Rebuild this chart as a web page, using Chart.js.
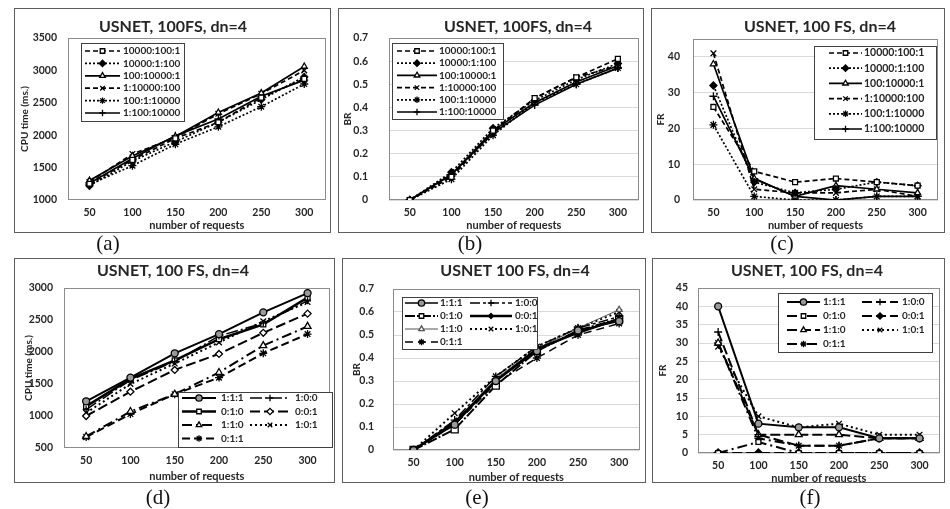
<!DOCTYPE html>
<html>
<head>
<meta charset="utf-8">
<script src="https://cdn.jsdelivr.net/npm/chart.js@4.4.0/dist/chart.umd.min.js"></script>
<style>
  body { margin: 0; background: #fff; width: 950px; height: 509px; position: relative; overflow: hidden; }
  .panel { position: absolute; }
  .panel canvas { position: absolute; left: 0; top: 0; }
  .frame { position: absolute; left: 0; top: 0; right: 0; bottom: 0; border: 1.5px solid #5e5e5e; box-sizing: border-box; pointer-events: none; }
  .cap { position: absolute; font-family: 'Liberation Serif', 'DejaVu Serif', serif; font-size: 21px; color: #111; transform: translate(-50%, -50%); }
</style>
</head>
<body>
<script>
const requests = ['50', '100', '150', '200', '250', '300'];
const seriesTop = ['10000:100:1', '10000:1:100', '100:10000:1', '1:10000:100', '100:1:10000', '1:100:10000'];
const seriesBottom = ['1:1:1', '1:0:0', '0:1:0', '0:0:1', '1:1:0', '1:0:1', '0:1:1'];

// (a) CPU time, one row per seriesTop entry
const cpuTop = [
  [1250, 1620, 1950, 2200, 2580, 2870],
  [1220, 1600, 1900, 2200, 2550, 2900],
  [1300, 1680, 1980, 2350, 2650, 3060],
  [1280, 1710, 1960, 2330, 2640, 3000],
  [1240, 1530, 1860, 2130, 2440, 2790],
  [1260, 1640, 1990, 2250, 2600, 2850]
];
// (b) BR
const brTop = [
  [0, 0.10, 0.30, 0.44, 0.53, 0.61],
  [0, 0.12, 0.31, 0.43, 0.52, 0.59],
  [0, 0.11, 0.30, 0.42, 0.51, 0.58],
  [0, 0.10, 0.29, 0.44, 0.53, 0.58],
  [0, 0.09, 0.28, 0.42, 0.50, 0.57],
  [0, 0.11, 0.29, 0.41, 0.50, 0.57]
];
// (c) FR
const frTop = [
  [26, 8, 5, 6, 5, 4],
  [32, 5, 2, 3, 5, 4],
  [38, 6, 1, 4, 3, 2],
  [41, 3, 2, 2, 3, 1],
  [21, 1, 0, 0, 1, 1],
  [29, 6, 1, 0, 1, 1]
];
// (d) CPU time, one row per seriesBottom entry
const cpuBottom = [
  [1230, 1600, 1980, 2280, 2620, 2920],
  [1100, 1560, 1850, 2250, 2450, 2800],
  [1150, 1580, 1870, 2200, 2430, 2850],
  [1000, 1380, 1720, 1970, 2300, 2600],
  [680, 1070, 1340, 1680, 2100, 2400],
  [1050, 1500, 1820, 2150, 2480, 2780],
  [670, 1030, 1340, 1600, 1980, 2280]
];
// (e) BR
const brBottom = [
  [0, 0.11, 0.30, 0.43, 0.52, 0.56],
  [0, 0.13, 0.32, 0.45, 0.53, 0.58],
  [0, 0.09, 0.28, 0.43, 0.52, 0.57],
  [0, 0.12, 0.30, 0.44, 0.51, 0.57],
  [0, 0.12, 0.31, 0.44, 0.53, 0.61],
  [0, 0.16, 0.32, 0.45, 0.53, 0.60],
  [0, 0.11, 0.29, 0.40, 0.50, 0.55]
];
// (f) FR
const frBottom = [
  [40, 8, 7, 7, 4, 4],
  [33, 5, 2, 2, 4, 4],
  [0, 3, 0, 0, 0, 0],
  [0, 0, 0, 0, 0, 0],
  [30, 5, 5, 5, 4, 4],
  [29, 10, 7, 8, 5, 5],
  [30, 4, 2, 2, 4, 4]
];

const font = 'Lato, "Open Sans", sans-serif';
const ink = '#262626';

const topStyles = [
  { dash: [5, 3], point: 'rect', fill: '#fff', r: 3.5, w: 1.7 },
  { dash: [2, 2], point: 'rectRot', fill: '#000', r: 3.5, w: 1.7 },
  { dash: [], point: 'triangle', fill: '#fff', r: 3.5, w: 1.7 },
  { dash: [5, 3], point: 'crossRot', fill: '#000', r: 4, w: 1.7 },
  { dash: [2, 2], point: 'star', fill: '#000', r: 4, w: 1.7 },
  { dash: [], point: 'cross', fill: '#000', r: 4, w: 1.7 }
];
const stylesD = [
  { dash: [], point: 'circle', fill: '#999', r: 3.5, w: 2 },
  { dash: [12, 3, 2, 3], point: 'cross', fill: '#000', r: 3.5 },
  { dash: [], point: 'rect', fill: '#fff', r: 3.5, w: 2.5 },
  { dash: [10, 4], point: 'rectRot', fill: '#fff', r: 3.5, w: 2 },
  { dash: [10, 4, 2, 4], point: 'triangle', fill: '#fff', r: 4, w: 2 },
  { dash: [2, 3], point: 'crossRot', fill: '#000', r: 4, w: 2 },
  { dash: [8, 4], point: 'star', fill: '#000', r: 4, w: 2 }
];
const stylesE = [
  { dash: [], point: 'circle', fill: '#999', r: 3.5, w: 1.5 },
  { dash: [10, 3, 3, 3], point: 'cross', fill: '#000', r: 4 },
  { dash: [10, 2, 2, 2], point: 'rect', fill: '#fff', r: 5, w: 2 },
  { dash: [], point: 'rectRot', fill: '#000', r: 2.5, w: 2.5 },
  { dash: [], point: 'triangle', fill: '#fff', r: 3.5, w: 1, color: '#555' },
  { dash: [2, 3], point: 'crossRot', fill: '#000', r: 4, w: 2 },
  { dash: [8, 5], point: 'star', fill: '#000', r: 4 }
];
const stylesF = [
  { dash: [], point: 'circle', fill: '#999', r: 3.5, w: 2 },
  { dash: [10, 4], point: 'cross', fill: '#000', r: 4, w: 2 },
  { dash: [10, 4, 2, 4], point: 'rect', fill: '#fff', r: 3.5, w: 2 },
  { dash: [10, 4], point: 'rectRot', fill: '#000', r: 4, w: 2 },
  { dash: [10, 4], point: 'triangle', fill: '#fff', r: 4, w: 2 },
  { dash: [2, 3], point: 'crossRot', fill: '#000', r: 4, w: 2 },
  { dash: [10, 4, 2, 4], point: 'star', fill: '#000', r: 4, w: 2 }
];

const plotFrame = {
  id: 'plotFrame',
  beforeDatasetsDraw(chart) {
    const a = chart.chartArea, ctx = chart.ctx;
    ctx.save();
    ctx.strokeStyle = '#8c8c8c';
    ctx.lineWidth = 1;
    ctx.strokeRect(Math.round(a.left) + 0.5, Math.round(a.top) + 0.5, Math.round(a.right - a.left) - 1, Math.round(a.bottom - a.top) - 1);
    ctx.restore();
  }
};

const panelText = {
  id: 'panelText',
  afterDraw(chart, args, o) {
    const ctx = chart.ctx;
    ctx.save();
    ctx.font = 'bold 16px ' + font;
    ctx.fillStyle = ink;
    ctx.textAlign = 'center';
    ctx.textBaseline = 'middle';
    ctx.fillText(o.text, o.x, o.y);
    ctx.restore();
  }
};

const boxLegend = {
  id: 'boxLegend',
  afterDraw(chart, args, o) {
    const ctx = chart.ctx;
    ctx.save();
    ctx.fillStyle = '#fff';
    ctx.fillRect(o.x, o.y, o.w, o.h);
    ctx.strokeStyle = '#404040';
    ctx.lineWidth = 1;
    ctx.strokeRect(o.x + 0.5, o.y + 0.5, o.w, o.h);
    ctx.font = 'bold ' + o.size + 'px ' + font;
    ctx.textBaseline = 'middle';
    chart.data.datasets.forEach((ds, i) => {
      const col = i % o.cols, row = Math.floor(i / o.cols);
      const y = o.row0 + row * o.rowH;
      const x0 = o.sampleX[col], x1 = x0 + o.sampleW[col];
      ctx.setLineDash(ds.borderDash || []);
      ctx.lineWidth = ds.borderWidth;
      ctx.strokeStyle = ds.borderColor;
      ctx.beginPath();
      ctx.moveTo(x0, y);
      ctx.lineTo(x1, y);
      ctx.stroke();
      ctx.setLineDash([]);
      ctx.fillStyle = ds.pointBackgroundColor;
      ctx.strokeStyle = ds.pointBorderColor;
      ctx.lineWidth = ds.pointBorderWidth;
      Chart.helpers.drawPoint(ctx, { pointStyle: ds.pointStyle, radius: Math.min(ds.pointRadius, 3.2), rotation: 0, borderWidth: ds.pointBorderWidth }, (x0 + x1) / 2, y);
      ctx.fillStyle = ink;
      ctx.fillText(ds.label, o.textX[col], y);
    });
    ctx.restore();
  }
};

function makePanel(p) {
  const bx = p.box.x, by = p.box.y;
  const div = document.createElement('div');
  div.className = 'panel';
  div.style.left = bx + 'px';
  div.style.top = by + 'px';
  div.style.width = p.box.w + 'px';
  div.style.height = p.box.h + 'px';
  const cv = document.createElement('canvas');
  cv.width = p.box.w;
  cv.height = p.box.h;
  div.appendChild(cv);
  const fr = document.createElement('div');
  fr.className = 'frame';
  div.appendChild(fr);
  document.body.appendChild(div);

  const cap = document.createElement('div');
  cap.className = 'cap';
  cap.textContent = p.cap[0];
  cap.style.left = p.cap[1] + 'px';
  cap.style.top = p.cap[2] + 'px';
  document.body.appendChild(cap);

  const datasets = p.names.map((name, i) => {
    const s = p.styles[i];
    return {
      label: name,
      data: p.rows[i],
      borderColor: s.color || '#000',
      borderWidth: s.w || 1.5,
      borderDash: s.dash,
      pointStyle: s.point,
      pointRadius: s.r,
      pointBackgroundColor: s.fill,
      pointBorderColor: s.color || '#000',
      pointBorderWidth: 1.3,
      tension: 0,
      fill: false
    };
  });
  const lg = p.legend;
  const tickFont = { family: font, size: 10.5, weight: 'bold' };

  new Chart(cv, {
    type: 'line',
    data: { labels: requests, datasets: datasets },
    options: {
      responsive: false,
      animation: false,
      devicePixelRatio: 1,
      layout: { padding: { left: 0, top: p.plot.t - by, right: bx + p.box.w - p.plot.r, bottom: 0 } },
      plugins: {
        legend: { display: false },
        tooltip: { enabled: false },
        panelText: { text: p.title, x: p.titleX - bx, y: p.titleY - by },
        boxLegend: {
          x: lg.x - bx, y: lg.y - by, w: lg.w, h: lg.h, cols: lg.cols,
          row0: lg.row0 - by, rowH: lg.rowH,
          sampleX: lg.sampleX.map(v => v - bx), sampleW: lg.sampleW,
          textX: lg.textX.map(v => v - bx), size: lg.size
        }
      },
      scales: {
        x: {
          offset: true,
          grid: { display: false, drawTicks: false },
          border: { display: false },
          ticks: { padding: p.xTickY - p.plot.b - 6, color: ink, font: tickFont },
          title: {
            display: true, text: 'number of requests', color: ink,
            font: { family: font, size: 11, weight: 'bold' },
            padding: { top: 0, bottom: by + p.box.h - p.xTitleY - 6.5 }
          },
          afterFit(s) { s.height = by + p.box.h - p.plot.b; }
        },
        y: {
          min: p.y[0], max: p.y[1],
          grid: { display: p.grid, color: '#d9d9d9', drawTicks: false },
          border: { display: false },
          ticks: {
            stepSize: p.y[2], includeBounds: false, padding: p.plot.l - p.yTickR,
            color: ink, font: tickFont,
            callback: v => String(+v.toFixed(2))
          },
          title: {
            display: true, text: p.yTitle, color: ink,
            font: { family: font, size: 10, weight: 'bold' },
            padding: { top: p.yTitleX - bx - 6, bottom: 0 }
          },
          afterFit(s) { s.width = p.plot.l - bx; }
        }
      }
    },
    plugins: [plotFrame, panelText, boxLegend]
  });
}

makePanel({
  box: { x: 14, y: 8, w: 317, h: 225 }, plot: { l: 68, t: 38, r: 329, b: 200 },
  title: 'USNET, 100FS, dn=4', titleX: 173, titleY: 27,
  yTitle: 'CPU time (ms.)', yTitleX: 25, yTickR: 57, xTickY: 212, xTitleY: 226,
  y: [1000, 3500, 500], grid: false, names: seriesTop, rows: cpuTop, styles: topStyles,
  legend: { x: 81, y: 43, w: 103, h: 78, cols: 1, row0: 51, rowH: 12.4, sampleX: [85], sampleW: [35], textX: [123], size: 10 },
  cap: ['(a)', 108, 243]
});
makePanel({
  box: { x: 338, y: 8, w: 306, h: 225 }, plot: { l: 389, t: 38, r: 639, b: 200 },
  title: 'USNET, 100FS, dn=4', titleX: 518, titleY: 27,
  yTitle: 'BR', yTitleX: 348, yTickR: 368, xTickY: 212, xTitleY: 226,
  y: [0, 0.7, 0.1], grid: true, names: seriesTop, rows: brTop, styles: topStyles,
  legend: { x: 392, y: 43, w: 111, h: 76, cols: 1, row0: 51, rowH: 12.2, sampleX: [397], sampleW: [40], textX: [439], size: 10 },
  cap: ['(b)', 470, 243]
});
makePanel({
  box: { x: 651, y: 8, w: 294, h: 225 }, plot: { l: 693, t: 39, r: 938, b: 200 },
  title: 'USNET, 100 FS, dn=4', titleX: 820, titleY: 27,
  yTitle: 'FR', yTitleX: 661, yTickR: 680, xTickY: 212, xTitleY: 226,
  y: [0, 45, 10], grid: true, names: seriesTop, rows: frTop, styles: topStyles,
  legend: { x: 814, y: 46, w: 122, h: 93, cols: 1, row0: 53, rowH: 15.2, sampleX: [829], sampleW: [33], textX: [864], size: 10.5 },
  cap: ['(c)', 782, 243]
});
makePanel({
  box: { x: 14, y: 258, w: 321, h: 225 }, plot: { l: 64, t: 288, r: 332, b: 448 },
  title: 'USNET, 100 FS, dn=4', titleX: 173, titleY: 271,
  yTitle: 'CPU time (ms.)', yTitleX: 29, yTickR: 53, xTickY: 460, xTitleY: 477,
  y: [500, 3000, 500], grid: false, names: seriesBottom, rows: cpuBottom, styles: stylesD,
  legend: { x: 178, y: 392, w: 154, h: 55, cols: 2, row0: 398, rowH: 13.5, sampleX: [182, 250], sampleW: [34, 40], textX: [221, 295], size: 10 },
  cap: ['(d)', 158, 497]
});
makePanel({
  box: { x: 342, y: 258, w: 304, h: 225 }, plot: { l: 393, t: 289, r: 640, b: 450 },
  title: 'USNET 100 FS, dn=4', titleX: 515, titleY: 271,
  yTitle: 'BR', yTitleX: 357, yTickR: 374, xTickY: 462, xTitleY: 478,
  y: [0, 0.7, 0.1], grid: true, names: seriesBottom, rows: brBottom, styles: stylesE,
  legend: { x: 402, y: 297, w: 135, h: 52, cols: 2, row0: 303, rowH: 13, sampleX: [405, 470], sampleW: [33, 42], textX: [440, 515], size: 10 },
  cap: ['(e)', 477, 497]
});
makePanel({
  box: { x: 652, y: 258, w: 293, h: 225 }, plot: { l: 698, t: 288, r: 940, b: 453 },
  title: 'USNET, 100 FS, dn=4', titleX: 807, titleY: 271,
  yTitle: 'FR', yTitleX: 663, yTickR: 688, xTickY: 465, xTitleY: 479,
  y: [0, 45, 5], grid: true, names: seriesBottom, rows: frBottom, styles: stylesF,
  legend: { x: 778, y: 293, w: 154, h: 59, cols: 2, row0: 302, rowH: 14, sampleX: [787, 862], sampleW: [33, 36], textX: [823, 902], size: 10 },
  cap: ['(f)', 810, 497]
});
</script>
</body>
</html>
